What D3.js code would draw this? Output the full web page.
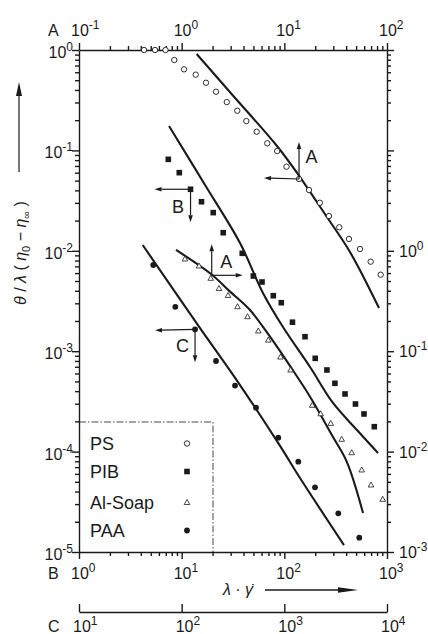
<!DOCTYPE html>
<html lang="en">
<head>
  <meta charset="UTF-8">
  <title>Reduced relaxation time vs shear rate</title>
  <script src="https://d3js.org/d3.v7.min.js"></script>
  <style>
    body { margin: 0; padding: 0; background: #fff; }
    svg { display: block; font-family: "Liberation Sans", Arial, sans-serif; }
    .axis path, .axis line { stroke: #1a1a1a; stroke-width: 1.4; }
    .lbl { font-size: 16px; fill: #1a1a1a; }
    .leg { font-size: 18px; fill: #1a1a1a; }
    .curve { fill: none; stroke: #1a1a1a; stroke-width: 2.1; }
  </style>
</head>
<body>
  <div id="chart"></div>
  <script>
    const width = 428, height = 634;

    // PS : top axis A, left axis
    const psPoints = [
      [0.43, 1.0], [0.55, 1.0], [0.696, 1.0], [0.847, 0.795], [1.054, 0.642], [1.37, 0.568],
      [1.726, 0.472], [2.16, 0.384], [2.75, 0.303], [3.48, 0.2485], [4.26, 0.196], [5.38, 0.1535],
      [6.82, 0.1177], [8.52, 0.0986], [10.5, 0.0688], [13.9, 0.0519], [17.4, 0.0403], [22.2, 0.0301],
      [27.2, 0.0222], [34.3, 0.01714], [42.6, 0.01312], [54.6, 0.01042], [69.3, 0.00779], [86.8, 0.00578]
    ];
    const psCurve = [
      [1.40, 0.912], [2.96, 0.379], [8.48, 0.1106], [14.2, 0.0543], [26.0, 0.0217], [43.6, 0.00973], [83.6, 0.00269]
    ];

    // PIB : bottom axis B, left axis
    const pibPoints = [
      [7.41, 0.0815], [9.48, 0.06], [12.2, 0.041], [15.6, 0.0308], [20.3, 0.024], [25.4, 0.01515],
      [38.9, 0.00944], [49.9, 0.00561], [60.6, 0.00489], [78.1, 0.00357], [93.4, 0.00304], [120, 0.001945],
      [159, 0.001394], [200, 0.000849], [260, 0.00065], [311, 0.000479], [390, 0.000375], [493, 0.000298],
      [597, 0.000237], [752, 0.000177]
    ];
    const pibCurve = [
      [7.53, 0.175], [16.9, 0.0452], [37.0, 0.01196], [61.9, 0.0038], [97.0, 0.00174], [178, 0.000696],
      [298, 0.000305], [510, 0.000164], [817, 0.0000968]
    ];

    // Al-Soap : top axis A, right axis
    const soapPoints = [
      [1.077, 0.829], [1.475, 0.706], [1.918, 0.532], [2.31, 0.421], [2.83, 0.359], [3.50, 0.2775],
      [4.38, 0.2207], [5.58, 0.159], [6.98, 0.129], [9.18, 0.0875], [11.5, 0.065], [18.7, 0.0289],
      [22.6, 0.0238], [28.3, 0.0191], [36.2, 0.01326], [45.3, 0.00975], [56.7, 0.00656], [69.8, 0.00465],
      [90.8, 0.00335]
    ];
    const soapCurve = [
      [0.881, 1.02], [1.931, 0.587], [2.96, 0.392], [4.63, 0.257], [7.25, 0.1394], [11.35, 0.0713],
      [17.8, 0.0352], [29.8, 0.01397], [40.7, 0.00787], [58.4, 0.00245]
    ];

    // PAA : axis C, left axis
    const paaPoints = [
      [52.9, 0.00722], [86.7, 0.00277], [135, 0.00165], [216, 0.000799], [331, 0.000455], [530, 0.000274],
      [873, 0.0001375], [1368, 0.0000793], [1990, 0.0000441], [3354, 0.0000243], [5370, 0.0000139]
    ];
    const paaCurve = [
      [41.7, 0.01142], [151, 0.0017], [343, 0.000516], [908, 0.000114], [1421, 0.0000546], [3811, 0.0000117]
    ];

    const legendNames = ["PS", "PIB", "Al-Soap", "PAA"];
    const xATicks = [-1, 0, 1, 2];
    const xBTicks = [0, 1, 2, 3];
    const xCTicks = [1, 2, 3, 4];
    const yLTicks = [0, -1, -2, -3, -4, -5];
    const yRTicks = [0, -1, -2, -3];

    const plotL = 79, plotR = 387, plotT = 50, plotB = 552, cAxisY = 612;

    const xA = d3.scaleLog().domain([0.1, 100]).range([plotL, plotR]);
    const xB = d3.scaleLog().domain([1, 1000]).range([plotL, plotR]);
    const xC = d3.scaleLog().domain([10, 10000]).range([plotL, plotR]);
    const yL = d3.scaleLog().domain([1e-5, 1]).range([plotB, plotT]);
    const yR = d3.scaleLog().domain([1e-3, 100]).range([plotB, plotT]);

    const svg = d3.select("#chart").append("svg")
      .attr("width", width).attr("height", height);

    const ink = "#1a1a1a";
    const isMajor = v => Math.abs(Math.log10(v) - Math.round(Math.log10(v))) < 1e-6;

    function logAxis(axisFn, scale, transform, minor, major) {
      const g = svg.append("g").attr("class", "axis").attr("transform", transform)
        .call(axisFn(scale).tickValues(scale.ticks()).tickFormat("").tickSize(minor).tickSizeOuter(0));
      g.selectAll(".tick line").each(function (d) {
        if (isMajor(d)) {
          const l = d3.select(this);
          if (l.attr("x2") !== null && +l.attr("x2") !== 0) l.attr("x2", Math.sign(+l.attr("x2")) * major);
          if (l.attr("y2") !== null && +l.attr("y2") !== 0) l.attr("y2", Math.sign(+l.attr("y2")) * major);
        }
      });
      return g;
    }

    logAxis(d3.axisLeft, yL, `translate(${plotL},0)`, 4, 7);
    logAxis(d3.axisRight, yR, `translate(${plotR},0)`, 4, 7);
    logAxis(d3.axisTop, xA, `translate(0,${plotT})`, 4, 7);
    logAxis(d3.axisBottom, xB, `translate(0,${plotB})`, 4, 7);
    svg.append("g").attr("class", "axis").attr("transform", `translate(0,${cAxisY})`)
      .call(d3.axisTop(xC).tickValues(xCTicks.map(e => Math.pow(10, e))).tickFormat("").tickSize(8).tickSizeOuter(0));

    function power(x, y, e, anchor) {
      const t = svg.append("text").attr("class", "lbl").attr("x", x).attr("y", y).attr("text-anchor", anchor);
      t.append("tspan").text("10");
      t.append("tspan").attr("dy", -7).attr("font-size", 12).text(e < 0 ? "-" + (-e) : e);
      return t;
    }

    xATicks.forEach(e => power(xA(Math.pow(10, e)) - 8, 36, e, "start"));
    xBTicks.forEach(e => power(xB(Math.pow(10, e)) - 8, 579, e, "start"));
    xCTicks.forEach(e => power(xC(Math.pow(10, e)) - 6, 632, e, "start"));
    yLTicks.forEach(e => power(73, yL(Math.pow(10, e)) + 8, e, "end"));
    yRTicks.forEach(e => power(399, yR(Math.pow(10, e)) + 6, e, "start"));

    [["A", 36], ["B", 579], ["C", 632]].forEach(([s, y]) => {
      svg.append("text").attr("class", "lbl").attr("x", 48).attr("y", y).text(s);
    });

    // curves
    const smooth = d3.curveCatmullRom.alpha(0.5);
    const curveA_L = d3.line().x(d => xA(d[0])).y(d => yL(d[1])).curve(smooth);
    const curveB_L = d3.line().x(d => xB(d[0])).y(d => yL(d[1])).curve(smooth);
    const curveA_R = d3.line().x(d => xA(d[0])).y(d => yR(d[1])).curve(smooth);
    const curveC_L = d3.line().x(d => xC(d[0])).y(d => yL(d[1])).curve(smooth);

    svg.append("path").attr("class", "curve").attr("d", curveA_L(psCurve));
    svg.append("path").attr("class", "curve").attr("d", curveB_L(pibCurve));
    svg.append("path").attr("class", "curve").attr("d", curveA_R(soapCurve));
    svg.append("path").attr("class", "curve").attr("d", curveC_L(paaCurve));

    // markers
    const drawers = {
      PS: (g, x, y) => g.append("circle").attr("cx", x).attr("cy", y).attr("r", 2.7)
        .attr("fill", "#fff").attr("stroke", ink).attr("stroke-width", 0.9),
      PIB: (g, x, y) => g.append("rect").attr("x", x - 2.8).attr("y", y - 2.8).attr("width", 5.6).attr("height", 5.6)
        .attr("fill", ink),
      "Al-Soap": (g, x, y) => g.append("path")
        .attr("d", `M${x},${y - 3} L${x + 2.8},${y + 2} L${x - 2.8},${y + 2} Z`)
        .attr("fill", "#fff").attr("stroke", ink).attr("stroke-width", 0.8),
      PAA: (g, x, y) => g.append("circle").attr("cx", x).attr("cy", y).attr("r", 2.9).attr("fill", ink)
    };

    const marks = svg.append("g");
    psPoints.forEach(d => drawers.PS(marks, xA(d[0]), yL(d[1])));
    pibPoints.forEach(d => drawers.PIB(marks, xB(d[0]), yL(d[1])));
    soapPoints.forEach(d => drawers["Al-Soap"](marks, xA(d[0]), yR(d[1])));
    paaPoints.forEach(d => drawers.PAA(marks, xC(d[0]), yL(d[1])));

    // arrows
    function arrow(x1, y1, x2, y2, len, half, sw) {
      const ang = Math.atan2(y2 - y1, x2 - x1);
      const bx = x2 - len * Math.cos(ang), by = y2 - len * Math.sin(ang);
      svg.append("line").attr("x1", x1).attr("y1", y1).attr("x2", bx).attr("y2", by)
        .attr("stroke", ink).attr("stroke-width", sw);
      const px = -Math.sin(ang) * half, py = Math.cos(ang) * half;
      svg.append("path")
        .attr("d", `M${x2},${y2} L${bx + px},${by + py} L${bx - px},${by - py} Z`)
        .attr("fill", ink);
    }

    function marker(x, y, dx1, dy1, dx2, dy2, label, lx, ly) {
      arrow(x, y, x + dx1, y + dy1, 7, 2.3, 1.2);
      arrow(x, y, x + dx2, y + dy2, 7, 2.3, 1.2);
      svg.append("text").attr("class", "leg").attr("x", x + lx).attr("y", y + ly)
        .attr("text-anchor", "middle").attr("font-size", 17).text(label);
    }

    const psRef = psPoints[15], pibRef = pibPoints[2], soapRef = soapPoints[2], paaRef = paaPoints[2];
    marker(xA(psRef[0]), yL(psRef[1]), 0, -37, -35, -1, "A", 12.5, -16);
    marker(xB(pibRef[0]), yL(pibRef[1]), -36, 0, 0, 33, "B", -12.5, 24);
    marker(xA(soapRef[0]) + 1, yR(soapRef[1]) - 3, 0, -31, 31, 0, "A", 14.5, -7);
    marker(xC(paaRef[0]), yL(paaRef[1]), -40, 1, 0, 33, "C", -12.5, 23);

    // legend box
    const legTop = 422, legRight = 213;
    svg.append("path")
      .attr("d", `M${plotL},${legTop} H${legRight} V${plotB}`)
      .attr("fill", "none").attr("stroke", ink).attr("stroke-width", 0.8)
      .attr("stroke-dasharray", "7,2,1.5,2");
    const legY = [443.5, 471.5, 502.5, 530.5];
    legendNames.forEach((name, i) => {
      svg.append("text").attr("class", "leg").attr("x", 90).attr("y", legY[i] + 6.5).text(name);
      drawers[name](svg, 187, legY[i]);
    });

    // y title
    const yt = svg.append("text").attr("transform", "translate(26,253) rotate(-90)")
      .attr("text-anchor", "middle").attr("font-size", 16).attr("fill", ink);
    yt.append("tspan").attr("font-style", "italic").text("θ");
    yt.append("tspan").text(" / ");
    yt.append("tspan").attr("font-style", "italic").text("λ");
    yt.append("tspan").text(" ( ");
    yt.append("tspan").attr("font-style", "italic").text("η");
    yt.append("tspan").attr("font-size", 11).attr("dy", 4).text("0");
    yt.append("tspan").attr("dy", -4).text(" − ");
    yt.append("tspan").attr("font-style", "italic").text("η");
    yt.append("tspan").attr("font-size", 11).attr("dy", 4).text("∞");
    yt.append("tspan").attr("dy", -4).text(" )");
    arrow(19, 172, 19, 82, 14, 3, 1.2);

    // x title
    const xt = svg.append("text").attr("x", 238).attr("y", 595).attr("text-anchor", "middle")
      .attr("font-size", 16).attr("fill", ink);
    xt.append("tspan").attr("font-style", "italic").text("λ");
    xt.append("tspan").text(" · ");
    xt.append("tspan").attr("font-style", "italic").text("γ\u0307");
    arrow(265, 590, 358, 590, 20, 2.8, 1.3);
  </script>
</body>
</html>
